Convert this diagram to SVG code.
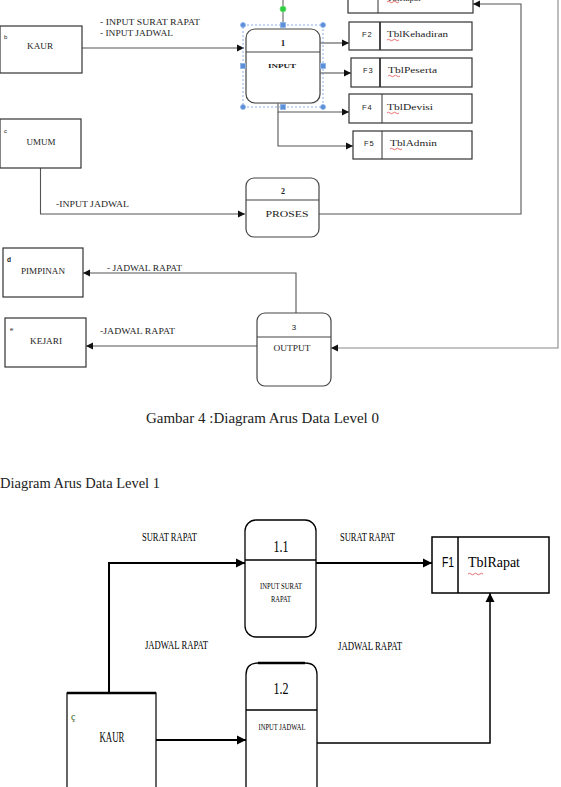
<svg xmlns="http://www.w3.org/2000/svg" width="561" height="787" viewBox="0 0 561 787">
<defs>
<marker id="a0" markerWidth="8" markerHeight="8" refX="7" refY="4" orient="auto" markerUnits="userSpaceOnUse"><path d="M0,0.5 L7,4 L0,7.5 Z" fill="#111"/></marker>
<marker id="a1" markerWidth="10" markerHeight="10" refX="9" refY="5" orient="auto" markerUnits="userSpaceOnUse"><path d="M0,0.5 L9,5 L0,9.5 Z" fill="#000"/></marker>
</defs>
<style>
.t{font-family:"Liberation Serif","Times New Roman",serif;fill:#222}
.t1{font-family:"Liberation Serif","Times New Roman",serif;fill:#000}
.s{font-family:"Liberation Sans",Arial,sans-serif;fill:#222}
.box{fill:#fff;stroke:#333;stroke-width:1.2}
.proc{fill:#fff;stroke:#444;stroke-width:1.2}
.ln0{fill:none;stroke:#555;stroke-width:1.1}
.ln1{fill:none;stroke:#000;stroke-width:2}
.sq{fill:none;stroke:#d33;stroke-width:0.7}
.h{fill:#5b8fd8;stroke:#8fb3e8;stroke-width:0.8}
</style>

<!-- Level 0 -->
<g id="connectors0">
<path class="ln0" d="M82,48 H244" marker-end="url(#a0)"/>
<path class="ln0" d="M320,43 H349" marker-end="url(#a0)"/>
<path class="ln0" d="M320,73 H351" marker-end="url(#a0)" stroke-width="1.5"/>
<path class="ln0" d="M278,103 V112 H349" marker-end="url(#a0)"/>
<path class="ln0" d="M278,112 V146 H353" marker-end="url(#a0)"/>
<path class="ln0" d="M40.5,168 V214 H245" marker-end="url(#a0)"/>
<path class="ln0" d="M319,214 H521 V4 H473" marker-end="url(#a0)"/>
<path class="ln0" d="M296,313 V273 H83" marker-end="url(#a0)"/>
<path class="ln0" d="M257,346 H86" marker-end="url(#a0)"/>
<path d="M558,0 V348 H331" fill="none" stroke="#888" stroke-width="1.1" marker-end="url(#a0)"/>
<path d="M283,0 V25" stroke="#555" stroke-width="1"/>
</g>
<g id="labels0">
<text class="t" x="100" y="25" font-size="8" textLength="100" lengthAdjust="spacingAndGlyphs">- INPUT SURAT RAPAT</text>
<text class="t" x="100" y="36" font-size="8" textLength="73" lengthAdjust="spacingAndGlyphs">- INPUT JADWAL</text>
<text class="t" x="56" y="207" font-size="7.5" textLength="73" lengthAdjust="spacingAndGlyphs">-INPUT  JADWAL</text>
<text class="t" x="107" y="271" font-size="7.5" textLength="75" lengthAdjust="spacingAndGlyphs">- JADWAL  RAPAT</text>
<text class="t" x="100" y="334" font-size="7.5" textLength="75" lengthAdjust="spacingAndGlyphs">-JADWAL  RAPAT</text>
</g>

<g id="kaur0">
<rect class="box" x="0" y="26" width="82" height="47"/>
<text class="s" x="4" y="39" font-size="6">b</text>
<text class="t" x="40" y="49" font-size="8" text-anchor="middle" textLength="26" lengthAdjust="spacingAndGlyphs">KAUR</text>
</g>
<g id="umum">
<rect class="box" x="0" y="119" width="81" height="49"/>
<text class="s" x="4" y="133" font-size="6">c</text>
<text class="t" x="41" y="145" font-size="7.5" text-anchor="middle" textLength="29" lengthAdjust="spacingAndGlyphs">UMUM</text>
</g>
<g id="pimpinan">
<rect class="box" x="3" y="248" width="80" height="49"/>
<text class="s" x="7" y="262" font-size="6.5" font-weight="bold">d</text>
<text class="t" x="43" y="274" font-size="7.5" text-anchor="middle" textLength="44" lengthAdjust="spacingAndGlyphs">PIMPINAN</text>
</g>
<g id="kejari">
<rect class="box" x="5" y="318" width="81" height="49"/>
<text class="s" x="10" y="331" font-size="6">e</text>
<text class="t" x="46" y="344" font-size="7.5" text-anchor="middle" textLength="32" lengthAdjust="spacingAndGlyphs">KEJARI</text>
</g>

<g id="proc1">
<rect x="247" y="30" width="74" height="74" rx="9" fill="#ccc" opacity="0.5"/>
<rect class="proc" x="246" y="29" width="74" height="74" rx="9"/>
<path d="M246,52 H320" stroke="#444" stroke-width="1.2"/>
<text class="t" x="283" y="46" font-size="9" font-weight="bold" text-anchor="middle">1</text>
<text class="t" x="282" y="68" font-size="7" font-weight="bold" text-anchor="middle" textLength="28" lengthAdjust="spacingAndGlyphs">INPUT</text>
<rect x="243" y="25" width="80" height="82" fill="none" stroke="#6b9be0" stroke-width="0.8" stroke-dasharray="2,2"/>
<circle class="h" cx="243" cy="25" r="2.5"/><circle class="h" cx="323" cy="25" r="2.5"/>
<circle class="h" cx="243" cy="107" r="2.5"/><circle class="h" cx="323" cy="107" r="2.5"/>
<rect class="h" x="280.5" y="22.5" width="5" height="5"/><rect class="h" x="280.5" y="104.5" width="5" height="5"/>
<rect class="h" x="240.5" y="63.5" width="5" height="5"/><rect class="h" x="320.5" y="63.5" width="5" height="5"/>
<circle cx="283" cy="9" r="3" fill="#2ecc40" stroke="#7be07b" stroke-width="0.8"/>
</g>
<g id="proc2">
<rect class="proc" x="246" y="178" width="73" height="59" rx="8"/>
<path d="M246,200 H319" stroke="#444" stroke-width="1.2"/>
<text class="t" x="283" y="194" font-size="8" font-weight="bold" text-anchor="middle">2</text>
<text class="t" x="287" y="217" font-size="7.5" text-anchor="middle" textLength="43" lengthAdjust="spacingAndGlyphs">PROSES</text>
</g>
<g id="proc3">
<rect class="proc" x="257" y="313" width="74" height="73" rx="8"/>
<path d="M257,337 H331" stroke="#444" stroke-width="1.2"/>
<text class="s" x="294" y="330" font-size="8" text-anchor="middle">3</text>
<text class="t" x="292" y="351" font-size="7.5" text-anchor="middle" textLength="37" lengthAdjust="spacingAndGlyphs">OUTPUT</text>
</g>

<g id="f1top">
<rect class="box" x="348" y="-20" width="125" height="33"/>
<path d="M378,-20 V13" stroke="#333" stroke-width="1"/>
<text class="t" x="387" y="1" font-size="9">TblRapat</text>
<path class="sq" d="M387,2 q1.5,-1.5 3,0 t3,0 t3,0 t3,0"/>
</g>
<g id="f2">
<rect class="box" x="349" y="22" width="123" height="28"/>
<path d="M380,22 V50" stroke="#333" stroke-width="1.8"/>
<text class="s" x="362" y="37" font-size="7.5" letter-spacing="1">F2</text>
<text class="t" x="387" y="37" font-size="9" textLength="61" lengthAdjust="spacingAndGlyphs">TblKehadiran</text>
<path class="sq" d="M387,40 q1.5,-1.5 3,0 t3,0 t3,0 t3,0"/>
</g>
<g id="f3">
<rect class="box" x="351" y="58" width="121" height="29"/>
<path d="M380,58 V87" stroke="#333" stroke-width="1.8"/>
<text class="s" x="363" y="73" font-size="7.5" letter-spacing="1">F3</text>
<text class="t" x="388" y="73" font-size="9" textLength="49" lengthAdjust="spacingAndGlyphs">TblPeserta</text>
<path class="sq" d="M388,76 q1.5,-1.5 3,0 t3,0 t3,0 t3,0"/>
</g>
<g id="f4">
<rect class="box" x="349" y="94" width="123" height="29"/>
<path d="M382,94 V123" stroke="#333" stroke-width="1"/>
<text class="s" x="362" y="110" font-size="7.5" letter-spacing="1">F4</text>
<text class="t" x="387" y="110" font-size="9" textLength="46" lengthAdjust="spacingAndGlyphs">TblDevisi</text>
<path class="sq" d="M387,113 q1.5,-1.5 3,0 t3,0 t3,0 t3,0"/>
</g>
<g id="f5">
<rect class="box" x="353" y="131" width="119" height="28"/>
<path d="M382,131 V159" stroke="#333" stroke-width="1"/>
<text class="s" x="364" y="146" font-size="7.5" letter-spacing="1">F5</text>
<text class="t" x="390" y="146" font-size="9" textLength="47" lengthAdjust="spacingAndGlyphs">TblAdmin</text>
<path class="sq" d="M390,149 q1.5,-1.5 3,0 t3,0 t3,0 t3,0"/>
</g>

<g id="captions">
<text class="t" x="146" y="423" font-size="14" textLength="233" lengthAdjust="spacingAndGlyphs">Gambar 4 :Diagram Arus Data Level 0</text>
<text class="t" x="0" y="488" font-size="14" textLength="160" lengthAdjust="spacingAndGlyphs">Diagram Arus Data Level 1</text>
</g>

<!-- Level 1 -->
<g id="connectors1">
<path class="ln1" d="M109,693 V563 H245" marker-end="url(#a1)"/>
<path class="ln1" d="M316,563 H432" marker-end="url(#a1)"/>
<path class="ln1" d="M156,740 H246" marker-end="url(#a1)"/>
<path d="M317,743 H490 V593" fill="none" stroke="#000" stroke-width="1.5" marker-end="url(#a1)"/>
</g>
<g id="labels1">
<text class="t1" x="142" y="541" font-size="12" textLength="55" lengthAdjust="spacingAndGlyphs">SURAT RAPAT</text>
<text class="t1" x="340" y="541" font-size="12" textLength="55" lengthAdjust="spacingAndGlyphs">SURAT RAPAT</text>
<text class="t1" x="145" y="649" font-size="12" textLength="63" lengthAdjust="spacingAndGlyphs">JADWAL RAPAT</text>
<text class="t1" x="338" y="650" font-size="12" textLength="64" lengthAdjust="spacingAndGlyphs">JADWAL RAPAT</text>
</g>
<g id="p11">
<rect x="245" y="520" width="71" height="117" rx="11" fill="#fff" stroke="#000" stroke-width="1.3"/>
<path d="M245,560 H316" stroke="#000" stroke-width="1.5"/>
<text class="t1" x="281" y="552" font-size="16" text-anchor="middle" textLength="15" lengthAdjust="spacingAndGlyphs">1.1</text>
<text class="t1" x="281" y="589" font-size="7.5" text-anchor="middle" textLength="42" lengthAdjust="spacingAndGlyphs">INPUT SURAT</text>
<text class="t1" x="281" y="602" font-size="7.5" text-anchor="middle" textLength="20" lengthAdjust="spacingAndGlyphs">RAPAT</text>
</g>
<g id="p12">
<path d="M246,800 V675 Q246,663 258,663 H305 Q317,663 317,675 V800" fill="#fff" stroke="#000" stroke-width="1.3"/>
<path d="M258,663 H305" stroke="#000" stroke-width="2.5"/>
<path d="M246,710 H317" stroke="#000" stroke-width="1.5"/>
<text class="t1" x="281" y="694" font-size="16" text-anchor="middle" textLength="15" lengthAdjust="spacingAndGlyphs">1.2</text>
<text class="t1" x="282" y="730" font-size="7.5" text-anchor="middle" textLength="47" lengthAdjust="spacingAndGlyphs">INPUT JADWAL</text>
</g>
<g id="kaur1">
<rect x="67" y="693" width="89" height="110" fill="#fff" stroke="#000" stroke-width="1.2"/>
<path d="M67,693 H156" stroke="#000" stroke-width="2.5"/>
<text class="t" x="71" y="720" font-size="10" style="fill:#3a5a1a">ç</text>
<text class="t1" x="112" y="742" font-size="14" text-anchor="middle" textLength="25" lengthAdjust="spacingAndGlyphs">KAUR</text>
</g>
<g id="f1">
<rect x="432" y="537" width="117" height="56" fill="#fff" stroke="#000" stroke-width="1.5"/>
<path d="M458,537 V593" stroke="#000" stroke-width="1.5"/>
<text class="s" x="442" y="567" font-size="15" textLength="12" lengthAdjust="spacingAndGlyphs" style="fill:#000">F1</text>
<text class="t1" x="468" y="567" font-size="15" textLength="52" lengthAdjust="spacingAndGlyphs">TblRapat</text>
<path class="sq" d="M468,574 q1.5,-1.5 3,0 t3,0 t3,0 t3,0 t3,0"/>
</g>
</svg>
